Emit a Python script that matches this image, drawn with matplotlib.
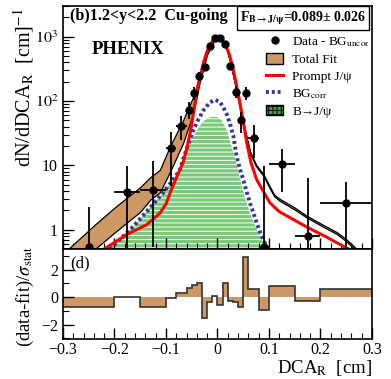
import numpy as np
import matplotlib.pyplot as plt
from matplotlib.lines import Line2D
from matplotlib.patches import Patch
from matplotlib.ticker import FixedLocator, LogLocator, NullFormatter, MultipleLocator

plt.rcParams['font.family'] = ['Liberation Serif', 'DejaVu Serif']
plt.rcParams['mathtext.fontset'] = 'stix'
plt.rcParams['hatch.linewidth'] = 0.7

# Data - BG_uncor points
dca = [-0.25, -0.175, -0.125, -0.09, -0.07, -0.055, -0.045, -0.035, -0.025, -0.015, -0.005,
       0.005, 0.015, 0.025, 0.035, 0.045, 0.055, 0.07, 0.09, 0.125, 0.175, 0.25]
dca_err = [0.0, 0.025, 0.025, 0.01, 0.01, 0.005, 0.005, 0.005, 0.005, 0.005, 0.005,
           0.005, 0.005, 0.005, 0.005, 0.005, 0.005, 0.01, 0.01, 0.025, 0.025, 0.05]
counts = [0.54, 3.8, 4.1, 18.5, 41, 73, 134, 244, 340, 713, 950,
          960, 765, 349, 139, 50, 134, 27, 0.53, 10.4, 0.81, 2.6]
cnt_lo = [0.01, 0.01, 0.53, 4.7, 25, 52, 105, 205, 295, 650, 890,
          900, 705, 305, 110, 32, 105, 13, 0.01, 3.8, 0.01, 0.01]
cnt_hi = [2.25, 9.8, 11.5, 33, 58, 95, 165, 285, 385, 775, 1010,
          1020, 825, 395, 170, 68, 165, 42, 9.6, 17.8, 6.3, 5.6]

# Total fit band
band_x = [-0.29, -0.238, -0.2, -0.15, -0.131, -0.112, -0.092, -0.067, -0.047, -0.035, -0.02, -0.005,
          0.005, 0.015, 0.025, 0.035, 0.045, 0.055, 0.063, 0.075, 0.09, 0.102, 0.11, 0.121,
          0.15, 0.173, 0.2, 0.231, 0.25, 0.267]
band_lo = [0.23, 0.5, 0.9, 1.9, 2.9, 3.8, 8, 22, 65, 190, 530, 920,
           940, 770, 390, 165, 68, 29, 15.5, 9.6, 6.7, 4.3, 3.3, 2.8,
           2.05, 1.55, 1.17, 0.86, 0.66, 0.49]
band_hi = [0.5, 1.2, 2.2, 4.6, 6.5, 8.5, 20, 50, 117, 245, 600, 970,
           985, 800, 410, 175, 72, 31, 16.5, 10.2, 7.1, 4.6, 3.5, 3.0,
           2.2, 1.65, 1.25, 0.92, 0.71, 0.53]

# Prompt J/psi
prompt_x = [-0.22, -0.176, -0.137, -0.112, -0.1, -0.088, -0.076, -0.066, -0.06, -0.053, -0.047,
            -0.04, -0.034, -0.027, -0.021, -0.014, -0.008, 0.0, 0.007, 0.015, 0.022, 0.028,
            0.034, 0.039, 0.045, 0.05, 0.057, 0.065, 0.076, 0.09, 0.102, 0.12, 0.15, 0.173,
            0.21, 0.25, 0.255]
prompt_y = [0.5, 0.84, 1.2, 1.8, 2.5, 4.5, 7.5, 11.5, 18, 32, 62,
            140, 237, 400, 570, 760, 880, 935, 900, 760, 560, 380,
            230, 145, 80, 48, 22, 11, 6, 3.8, 2.6, 1.9, 1.4, 1.1,
            0.78, 0.52, 0.5]

# BG_corr
bgc_x = [-0.209, -0.163, -0.131, -0.105, -0.086, -0.073, -0.066, -0.056, -0.047, -0.037, -0.027,
         -0.015, -0.005, 0.004, 0.011, 0.018, 0.024, 0.031, 0.037, 0.044, 0.05, 0.057, 0.063,
         0.07, 0.076, 0.083, 0.089, 0.095, 0.098]
bgc_y = [0.5, 1.13, 2.2, 3.8, 6, 8.5, 13, 22, 35, 52, 72,
         95, 104, 98, 81, 62, 45, 28, 14, 8.5, 6, 3.8, 2.6,
         1.8, 1.27, 0.9, 0.7, 0.55, 0.5]

# B -> J/psi
b_x = [-0.222, -0.2, -0.163, -0.131, -0.105, -0.086, -0.073, -0.066, -0.056, -0.047, -0.04,
       -0.03, -0.02, -0.01, 0.0, 0.008, 0.018, 0.027, 0.035, 0.044, 0.053, 0.063, 0.074,
       0.086, 0.092]
b_y = [0.5, 0.62, 1.13, 2.2, 3.8, 6, 8.5, 12, 20, 28, 35,
       46, 54, 57, 56, 50, 35, 20, 12, 6, 3.2, 1.8, 1.1,
       0.7, 0.5]

# residuals (data-fit)/sigma_stat
res_edges = [-0.3, -0.2, -0.15, -0.1, -0.08, -0.06, -0.05, -0.04, -0.03, -0.02, -0.01, 0.0,
             0.01, 0.02, 0.03, 0.04, 0.05, 0.06, 0.08, 0.1, 0.15, 0.2, 0.3]
res_vals = [-0.7, 0.0, -0.75, -0.1, 0.29, 0.63, 0.87, 1.0, -1.5, -0.34, 0.1,
            -0.58, 1.0, -0.27, -0.39, -0.7, 2.89, 0.58, -0.95, 0.82, -0.27, 0.58]

tan = '#cc9966'
green = '#79c979'
navy = '#35359a'
dots = (0, (0.75, 0.75))

fig = plt.figure(figsize=(3.91, 3.79), dpi=100)
ax = fig.add_axes([0.1611, 0.343, 0.7903, 0.6412])
ax2 = fig.add_axes([0.1611, 0.1055, 0.7903, 0.2375])

# top panel
ax.fill_between(b_x, 0.01, b_y, facecolor=green, edgecolor='white', hatch='----', linewidth=0, zorder=1)
ax.fill_between(band_x, band_lo, band_hi, facecolor=tan, edgecolor='black', linewidth=0.9, zorder=2)
ax.plot(bgc_x, bgc_y, color=navy, lw=2.8, linestyle=dots, zorder=3)
ax.plot(prompt_x, prompt_y, color='red', lw=2.2, zorder=4)
yerr = [np.array(counts) - np.array(cnt_lo), np.array(cnt_hi) - np.array(counts)]
ax.errorbar(dca, counts, xerr=dca_err, yerr=yerr, fmt='o', color='black', ms=5,
            elinewidth=1.3, capsize=0, zorder=5)

ax.set_yscale('log')
ax.set_xlim(-0.3, 0.3)
ax.set_ylim(0.5, 3000)
ax.yaxis.set_major_locator(FixedLocator([1, 10, 100, 1000]))
ax.set_yticklabels(['1', '10', '$10^2$', '$10^3$'])
ax.yaxis.set_minor_locator(LogLocator(base=10, subs=np.arange(2, 10)))
ax.yaxis.set_minor_formatter(NullFormatter())
ax.xaxis.set_major_locator(MultipleLocator(0.1))
ax.xaxis.set_minor_locator(MultipleLocator(0.02))
ax.tick_params(which='both', direction='in', top=False, right=False, labelbottom=False,
               labelsize=11.5)
ax.tick_params(which='major', length=8, width=1)
ax.tick_params(which='minor', length=4, width=0.8)
for s in ax.spines.values():
    s.set_linewidth(1.2)

fig.text(70 / 391, 1 - 16 / 379, '(b)1.2<y<2.2  Cu-going', fontsize=11.5,
         fontweight='bold', va='center', ha='left')
fig.text(303 / 391, 1 - 18 / 379, r'F$_{\mathbf{B\rightarrow J/\psi}}$=0.089± 0.026',
         fontsize=10, fontweight='bold', ha='center', va='center',
         bbox=dict(boxstyle='square,pad=0.2', facecolor='white', edgecolor='black', linewidth=1))
fig.text(92 / 391, 1 - 50 / 379, 'PHENIX', fontsize=13.5, fontweight='bold',
         ha='left', va='center')

handles = [Line2D([], [], marker='o', color='black', linestyle='none', ms=5),
           Patch(facecolor=tan, edgecolor='black', linewidth=1),
           Line2D([], [], color='red', lw=2.2),
           Line2D([], [], color=navy, lw=2.8, linestyle=dots),
           Patch(facecolor='#3fa33f', edgecolor='black', hatch='++++', linewidth=1)]
labels = [r'Data - BG$_{\mathrm{uncor}}$', 'Total Fit', 'Prompt J/ψ',
          r'BG$_{\mathrm{corr}}$', 'B→J/ψ']
ax.legend(handles, labels, loc='upper left', bbox_to_anchor=(266 / 391, 1 - 35 / 379),
          bbox_transform=fig.transFigure, frameon=False, fontsize=9.5, handlelength=1.3,
          handleheight=0.9, handletextpad=0.7, labelspacing=0.3, borderpad=0, borderaxespad=0)

# bottom panel
ax2.stairs(res_vals, res_edges, baseline=0, fill=True, color=tan, zorder=1)
ax2.stairs(res_vals, res_edges, baseline=None, color='#333333', lw=1.2, zorder=2)
ax2.set_xlim(-0.3, 0.3)
ax2.set_ylim(-3.05, 3.5)
ax2.xaxis.set_major_locator(FixedLocator([-0.3, -0.2, -0.1, 0, 0.1, 0.2, 0.3]))
ax2.set_xticklabels(['−0.3', '−0.2', '−0.1', '0', '0.1', '0.2', '0.3'])
ax2.xaxis.set_minor_locator(MultipleLocator(0.02))
ax2.yaxis.set_major_locator(FixedLocator([-2, 0, 2]))
ax2.set_yticklabels(['−2', '0', '2'])
ax2.yaxis.set_minor_locator(FixedLocator([-3, -1, 1, 3]))
ax2.tick_params(which='both', direction='in', top=False, right=False, labelsize=11.5)
ax2.tick_params(axis='x', pad=2)
ax2.tick_params(which='major', length=8, width=1)
ax2.tick_params(which='minor', length=4, width=0.8)
for s in ax2.spines.values():
    s.set_linewidth(1.2)
ax2.text(0.025, 0.93, '(d)', transform=ax2.transAxes, fontsize=12, va='top', ha='left')

fig.text(24 / 391, 1 - 88 / 379, r'dN/dDCA$_{\mathrm{R}}$  [cm]$^{-1}$', rotation=90,
         fontsize=14.5, ha='center', va='center')
fig.text(25 / 391, 1 - 296 / 379, r'(data-fit)/$\sigma_{\mathrm{stat}}$', rotation=90,
         fontsize=13.5, ha='center', va='center')
fig.text(372 / 391, 1 - 373 / 379, r'DCA$_{\mathrm{R}}$  [cm]', fontsize=13.5,
         ha='right', va='baseline')

fig.savefig('out.png', dpi=100)
